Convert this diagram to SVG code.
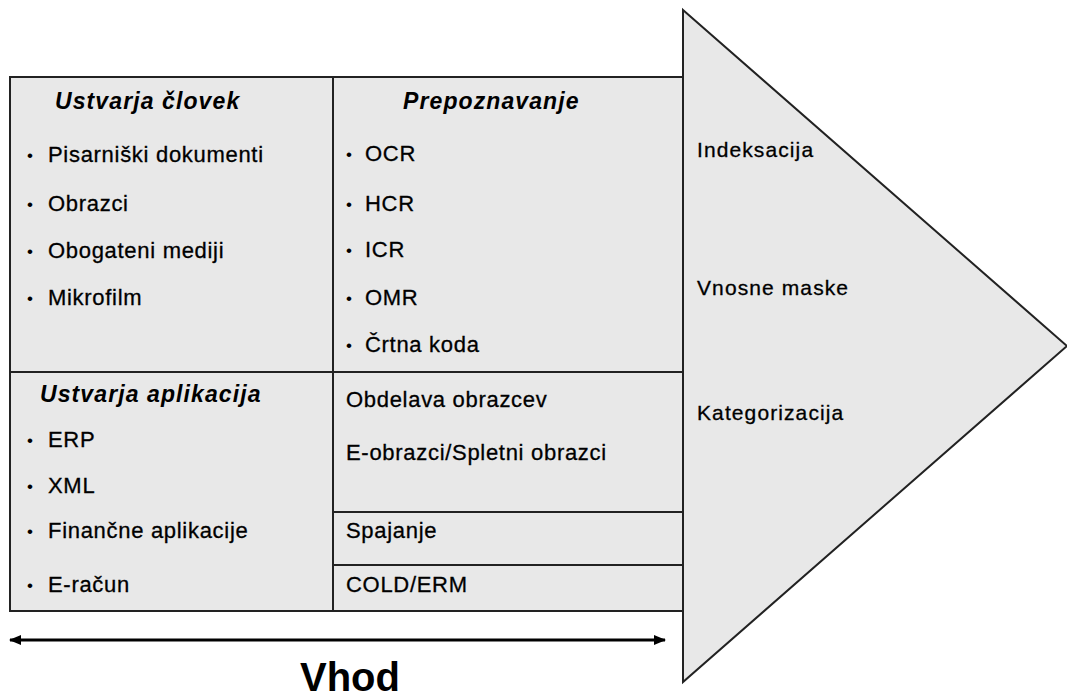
<svg xmlns="http://www.w3.org/2000/svg" width="1067" height="700" viewBox="0 0 1067 700">
  <style>
    .cell { fill: #e8e8e8; stroke: #222; stroke-width: 2; }
    .div { stroke: #222; stroke-width: 2; fill: none; }
    .t { font-family: "Liberation Sans", Arial, sans-serif; font-size: 22px; fill: #000; stroke: #000; stroke-width: 0.3; letter-spacing: 0.7px; }
    .b { font-family: "Liberation Sans", Arial, sans-serif; font-size: 17px; fill: #000; }
    .h { font-family: "Liberation Sans", Arial, sans-serif; font-size: 23px; font-weight: bold; font-style: italic; fill: #000; letter-spacing: 1.1px; }
    .lbl { font-family: "Liberation Sans", Arial, sans-serif; font-size: 21px; fill: #000; stroke: #000; stroke-width: 0.3; letter-spacing: 1.1px; }
    .big { font-family: "Liberation Sans", Arial, sans-serif; font-size: 40px; font-weight: bold; fill: #000; }
  </style>
  <defs>
    <marker id="head" viewBox="0 0 12 10" refX="11" refY="5" markerWidth="12" markerHeight="10" markerUnits="userSpaceOnUse" orient="auto-start-reverse">
      <path d="M0,0 L12,5 L0,10 Z" fill="#000"/>
    </marker>
  </defs>

  <rect width="1067" height="700" fill="#fff"/>

  <!-- outer frame of the input grid -->
  <rect class="cell" x="10" y="77" width="673" height="534"/>

  <!-- output arrow (processing stage) -->
  <g id="capture">
    <polygon class="cell" points="683,10 1067,346 683,682"/>
    <text class="lbl" x="697" y="157">Indeksacija</text>
    <text class="lbl" x="697" y="295">Vnosne maske</text>
    <text class="lbl" x="697" y="420">Kategorizacija</text>
  </g>

  <!-- grid dividers -->
  <g id="grid">
    <line class="div" x1="333" y1="77" x2="333" y2="611"/>
    <line class="div" x1="10" y1="372" x2="683" y2="372"/>
    <line class="div" x1="333" y1="512" x2="683" y2="512"/>
    <line class="div" x1="333" y1="565" x2="683" y2="565"/>
  </g>

  <g id="human">
    <text class="h" x="55" y="109">Ustvarja človek</text>
    <text class="b" x="27" y="161">•</text><text class="t" x="48" y="162">Pisarniški dokumenti</text>
    <text class="b" x="27" y="210">•</text><text class="t" x="48" y="211">Obrazci</text>
    <text class="b" x="27" y="257">•</text><text class="t" x="48" y="258">Obogateni mediji</text>
    <text class="b" x="27" y="304">•</text><text class="t" x="48" y="305">Mikrofilm</text>
  </g>

  <g id="recognition">
    <text class="h" x="403" y="109">Prepoznavanje</text>
    <text class="b" x="346" y="160">•</text><text class="t" x="365" y="161">OCR</text>
    <text class="b" x="346" y="210">•</text><text class="t" x="365" y="211">HCR</text>
    <text class="b" x="346" y="256">•</text><text class="t" x="365" y="257">ICR</text>
    <text class="b" x="346" y="304">•</text><text class="t" x="365" y="305">OMR</text>
    <text class="b" x="346" y="351">•</text><text class="t" x="365" y="352">Črtna koda</text>
  </g>

  <g id="application">
    <text class="h" x="40" y="402">Ustvarja aplikacija</text>
    <text class="b" x="27" y="446">•</text><text class="t" x="48" y="447">ERP</text>
    <text class="b" x="27" y="492">•</text><text class="t" x="48" y="493">XML</text>
    <text class="b" x="27" y="537">•</text><text class="t" x="48" y="538">Finančne aplikacije</text>
    <text class="b" x="27" y="591">•</text><text class="t" x="48" y="592">E-račun</text>
  </g>

  <g id="forms">
    <text class="t" x="346" y="407">Obdelava obrazcev</text>
    <text class="t" x="346" y="460">E-obrazci/Spletni obrazci</text>
  </g>

  <g id="merge">
    <text class="t" x="346" y="538">Spajanje</text>
  </g>

  <g id="cold">
    <text class="t" x="346" y="592">COLD/ERM</text>
  </g>

  <!-- span arrow under the input grid -->
  <g id="connectors">
    <line x1="10" y1="640" x2="665" y2="640" stroke="#000" stroke-width="3" marker-start="url(#head)" marker-end="url(#head)"/>
  </g>
  <g id="input-label">
    <text class="big" x="350" y="691" text-anchor="middle">Vhod</text>
  </g>
</svg>
